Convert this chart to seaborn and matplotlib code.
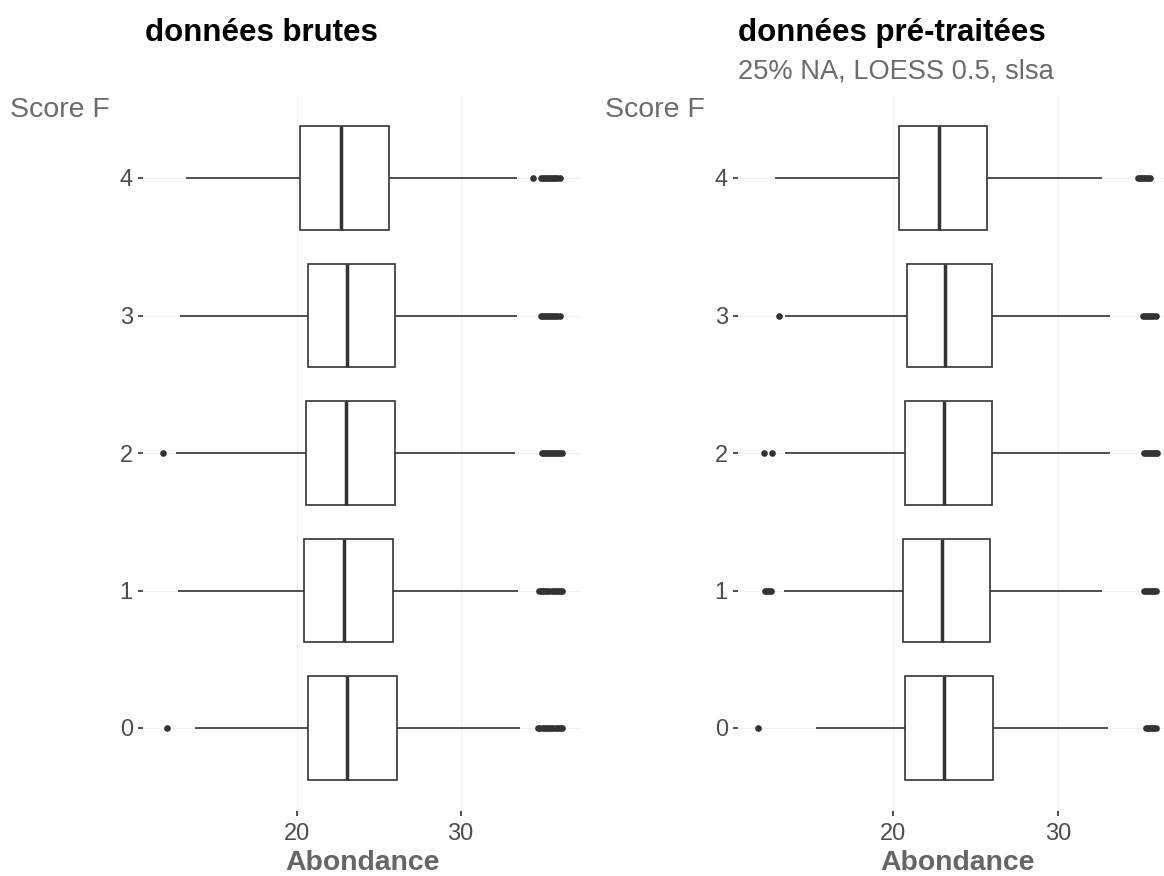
import matplotlib
matplotlib.use("Agg")
import pandas as pd
import matplotlib.pyplot as plt
import seaborn as sns

sns.set_theme(style="white")
plt.rcParams["font.family"] = ["Liberation Sans", "DejaVu Sans"]

# -----------------------------
# valeurs (score F 0..4)
# -----------------------------
scores = ["0", "1", "2", "3", "4"]
ordre = ["4", "3", "2", "1", "0"]

# données brutes
brut_bas = [13.83, 12.74, 12.66, 12.90, 13.25]
brut_q1 = [20.68, 20.43, 20.59, 20.67, 20.22]
brut_med = [23.08, 22.88, 23.02, 23.08, 22.72]
brut_q3 = [26.12, 25.90, 25.98, 26.00, 25.66]
brut_haut = [33.64, 33.53, 33.35, 33.43, 33.45]
brut_out = [
    [12.10, 34.70, 34.85, 35.00, 35.12, 35.25, 35.40, 35.52, 35.65, 35.80,
     35.92, 36.05, 36.19],
    [34.80, 34.92, 35.05, 35.18, 35.30, 35.42, 35.55, 35.68, 35.80, 35.93,
     36.05, 36.19],
    [11.85, 34.97, 35.10, 35.22, 35.35, 35.48, 35.60, 35.72, 35.85, 35.97,
     36.08, 36.17],
    [34.90, 35.02, 35.15, 35.28, 35.40, 35.52, 35.65, 35.78, 35.90, 36.07],
    [34.40, 34.90, 35.02, 35.15, 35.28, 35.40, 35.52, 35.65, 35.78, 35.90,
     36.07],
]

# données pré-traitées
pre_bas = [15.37, 13.47, 13.49, 13.53, 12.89]
pre_q1 = [20.76, 20.62, 20.74, 20.88, 20.40]
pre_med = [23.11, 22.97, 23.13, 23.19, 22.83]
pre_q3 = [26.06, 25.86, 26.00, 26.00, 25.68]
pre_haut = [32.97, 32.65, 33.13, 33.11, 32.65]
pre_out = [
    [11.89, 35.26, 35.38, 35.50, 35.62, 35.74, 35.86],
    [12.33, 12.45, 12.57, 12.69, 35.18, 35.30, 35.42, 35.54, 35.66, 35.78,
     35.86],
    [12.25, 12.75, 35.18, 35.30, 35.42, 35.54, 35.66, 35.78, 35.90, 35.94],
    [13.13, 35.12, 35.24, 35.36, 35.48, 35.60, 35.72, 35.86],
    [34.82, 34.94, 35.06, 35.18, 35.30, 35.42, 35.52],
]

GRIS = "#333333"


def tables(bas, q1, med, q3, haut, out):
    # 5 valeurs par groupe -> quartiles exacts, moustaches = min/max
    lignes = []
    for s, a, b, c, d, e in zip(scores, bas, q1, med, q3, haut):
        for v in (a, b, c, d, e):
            lignes.append((s, v))
    boites = pd.DataFrame(lignes, columns=["score", "abondance"])
    pts = pd.DataFrame([(s, v) for s, vals in zip(scores, out) for v in vals],
                       columns=["score", "abondance"])
    return boites, pts


def panneau(ax, boites, pts):
    sns.boxplot(data=boites, x="abondance", y="score", order=ordre, orient="y",
                whis=(0, 100), width=0.75, color="white", saturation=1,
                linecolor=GRIS, linewidth=1.2, showcaps=False, showfliers=False,
                medianprops={"linewidth": 2.5}, ax=ax)
    sns.stripplot(data=pts, x="abondance", y="score", order=ordre, orient="y",
                  jitter=False, color=GRIS, size=4.8, ax=ax)
    vmin = min(boites["abondance"].min(), pts["abondance"].min())
    vmax = max(boites["abondance"].max(), pts["abondance"].max())
    r = vmax - vmin
    ax.set_xlim(vmin - 0.05 * r, vmax + 0.05 * r)
    ax.set_ylim(4.6, -0.6)
    ax.set_xticks([20, 30])
    ax.set_axisbelow(True)
    ax.grid(True, axis="both", color="#F0F0F0", linewidth=0.8)
    for sp in ax.spines.values():
        sp.set_visible(False)
    ax.xaxis.set_ticks_position("bottom")
    ax.yaxis.set_ticks_position("left")
    ax.tick_params(axis="both", direction="out", length=3.8, width=1.2,
                   color=GRIS, labelcolor="#4D4D4D", labelsize=17)
    ax.tick_params(axis="y", pad=3.5)
    ax.tick_params(axis="x", pad=5)
    ax.set_ylabel("")
    ax.set_xlabel("Abondance", fontsize=20.4, fontweight="bold",
                  color="#666666", labelpad=4)


W, H = 1164, 876
fig = plt.figure(figsize=(W / 100, H / 100), dpi=100)
bas_px, haut_px = 810.5, 95.5
ax1 = fig.add_axes([143 / W, 1 - bas_px / H, 439 / W, (bas_px - haut_px) / H])
ax2 = fig.add_axes([738 / W, 1 - bas_px / H, 439 / W, (bas_px - haut_px) / H])

panneau(ax1, *tables(brut_bas, brut_q1, brut_med, brut_q3, brut_haut, brut_out))
panneau(ax2, *tables(pre_bas, pre_q1, pre_med, pre_q3, pre_haut, pre_out))

fig.text(145 / W, 1 - 41 / H, "données brutes", fontsize=22.5,
         fontweight="bold", color="black", va="baseline")
fig.text(738 / W, 1 - 41 / H, "données pré-traitées", fontsize=22.5,
         fontweight="bold", color="black", va="baseline")
fig.text(738 / W, 1 - 79 / H, "25% NA, LOESS 0.5, slsa", fontsize=19.6,
         color="#6B6B6B", va="baseline")
fig.text(10 / W, 1 - 117 / H, "Score F", fontsize=20.5, color="#6B6B6B",
         va="baseline")
fig.text(605 / W, 1 - 117 / H, "Score F", fontsize=20.5, color="#6B6B6B",
         va="baseline")

fig.savefig("out.png", dpi=100)
